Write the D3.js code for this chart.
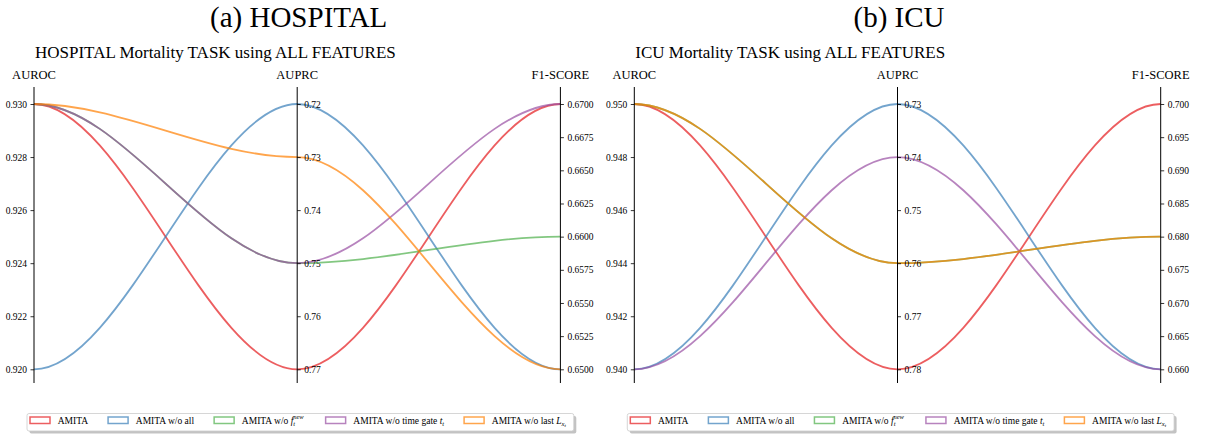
<!DOCTYPE html>
<html>
<head>
<meta charset="utf-8">
<script src="https://cdn.jsdelivr.net/npm/d3@7"></script>
<style>
  body { margin: 0; background: #fff; }
  text { font-family: "Liberation Serif", "DejaVu Serif", serif; fill: #000; }
</style>
</head>
<body>
<div id="chart-area"></div>
<script>
// metric axes and methods (legend order = drawing order)
var metrics = ["AUROC", "AUPRC", "F1-SCORE"];
var methods = ["AMITA", "AMITA w/o all", "AMITA w/o f", "AMITA w/o time gate", "AMITA w/o last L"];
var colors = ["#e41a1c", "#377eb8", "#4daf4a", "#984ea3", "#ff7f00"];

// HOSPITAL values per method
var hospitalAuroc = [0.930, 0.920, 0.930, 0.930, 0.930];
var hospitalAuprc = [0.77, 0.72, 0.75, 0.75, 0.73];
var hospitalF1 = [0.6700, 0.6500, 0.6600, 0.6700, 0.6500];

// ICU values per method
var icuAuroc = [0.950, 0.940, 0.950, 0.940, 0.950];
var icuAuprc = [0.78, 0.73, 0.76, 0.74, 0.76];
var icuF1 = [0.700, 0.660, 0.680, 0.660, 0.680];

// tick values
var hospitalAurocTicks = [0.920, 0.922, 0.924, 0.926, 0.928, 0.930];
var hospitalAuprcTicks = [0.72, 0.73, 0.74, 0.75, 0.76, 0.77];
var hospitalF1Ticks = [0.6500, 0.6525, 0.6550, 0.6575, 0.6600, 0.6625, 0.6650, 0.6675, 0.6700];
var icuAurocTicks = [0.940, 0.942, 0.944, 0.946, 0.948, 0.950];
var icuAuprcTicks = [0.73, 0.74, 0.75, 0.76, 0.77, 0.78];
var icuF1Ticks = [0.660, 0.665, 0.670, 0.675, 0.680, 0.685, 0.690, 0.695, 0.700];

var dims = {
    width: 1205,
    height: 435,
    panelWidth: 526.4,
    dataTop: 104,
    dataBottom: 369.3,
    axisTop: 87,
    axisBottom: 383
};

var svg = d3.select("#chart-area")
    .append("svg")
    .attr("width", dims.width)
    .attr("height", dims.height);

function curvePath(points) {
    // cubic segments with horizontal tangents, control points at 1/3 and 2/3
    var p = d3.path();
    p.moveTo(points[0][0], points[0][1]);
    for (var i = 1; i < points.length; i++) {
        var x0 = points[i - 1][0], y0 = points[i - 1][1];
        var x1 = points[i][0], y1 = points[i][1];
        var dx = (x1 - x0) / 3;
        p.bezierCurveTo(x0 + dx, y0, x1 - dx, y1, x1, y1);
    }
    return p.toString();
}

function drawPanel(panel) {
    var g = svg.append("g");
    var x = d3.scalePoint()
        .domain(metrics)
        .range([panel.x0, panel.x0 + dims.panelWidth]);

    var yScales = [
        d3.scaleLinear().domain(d3.extent(panel.aurocTicks)).range([dims.dataBottom, dims.dataTop]),
        d3.scaleLinear().domain(d3.extent(panel.auprcTicks)).range([dims.dataTop, dims.dataBottom]),
        d3.scaleLinear().domain(d3.extent(panel.f1Ticks)).range([dims.dataBottom, dims.dataTop])
    ];
    var series = [panel.auroc, panel.auprc, panel.f1];

    // titles
    g.append("text")
        .attr("x", x("AUPRC") + 1.5)
        .attr("y", 27)
        .attr("text-anchor", "middle")
        .style("font-size", "29px")
        .text(panel.title);
    g.append("text")
        .attr("x", panel.x0 + 1)
        .attr("y", 58)
        .style("font-size", "17px")
        .text(panel.subtitle);

    // curves
    methods.forEach(function (m, i) {
        var pts = metrics.map(function (metric, j) {
            return [x(metric), yScales[j](series[j][i])];
        });
        g.append("path")
            .attr("d", curvePath(pts))
            .attr("fill", "none")
            .attr("stroke", colors[i])
            .attr("stroke-opacity", 0.7)
            .attr("stroke-width", 1.8);
    });

    // axes
    var formats = [".3f", ".2f", panel.f1Format];
    var tickSets = [panel.aurocTicks, panel.auprcTicks, panel.f1Ticks];
    metrics.forEach(function (metric, j) {
        var axis = (j === 0 ? d3.axisLeft(yScales[j]) : d3.axisRight(yScales[j]))
            .tickValues(tickSets[j])
            .tickFormat(d3.format(formats[j]))
            .tickSize(3.5)
            .tickPadding(3.5);
        var ag = g.append("g")
            .attr("transform", "translate(" + x(metric) + ",0)")
            .call(axis)
            .attr("font-family", "'Liberation Serif', serif");
        ag.select(".domain").remove();
        ag.selectAll(".tick line").attr("stroke", "#000").attr("stroke-width", 0.8);
        ag.selectAll(".tick text")
            .style("font-family", "'Liberation Serif', serif")
            .style("font-size", "9.5px")
            .attr("fill", "#000");
        g.append("line")
            .attr("x1", x(metric)).attr("x2", x(metric))
            .attr("y1", dims.axisTop).attr("y2", dims.axisBottom)
            .attr("stroke", "#000")
            .attr("stroke-width", 1);
        g.append("text")
            .attr("x", x(metric))
            .attr("y", 79)
            .attr("text-anchor", "middle")
            .style("font-size", "12.5px")
            .text(metric);
    });

    // legend
    var lx = panel.x0 - 7;
    var ly = 413.5;
    var shadow = g.append("rect")
        .attr("x", lx + 2.5).attr("y", ly + 2.5)
        .attr("height", 17.5).attr("rx", 2)
        .attr("fill", "#888").attr("opacity", 0.5);
    var frame = g.append("rect")
        .attr("x", lx).attr("y", ly)
        .attr("height", 17.5).attr("rx", 2)
        .attr("fill", "#fff").attr("stroke", "#ccc").attr("stroke-width", 0.8);

    var cursor = panel.x0 - 4;
    methods.forEach(function (m, i) {
        g.append("rect")
            .attr("x", cursor).attr("y", 417)
            .attr("width", 20).attr("height", 6.5)
            .attr("fill", "#fff")
            .attr("stroke", colors[i])
            .attr("stroke-opacity", 0.7)
            .attr("stroke-width", 1.5);
        var t = g.append("text")
            .attr("x", cursor + 27.7)
            .attr("y", 423.5)
            .style("font-size", "9.5px");
        legendLabel(t, i);
        cursor += 27.7 + t.node().getComputedTextLength() + 20;
    });
    var boxW = cursor - 20 + 8 - lx;
    frame.attr("width", boxW);
    shadow.attr("width", boxW);
}

function legendLabel(t, i) {
    if (i === 2) {
        t.append("tspan").text("AMITA w/o ");
        t.append("tspan").style("font-style", "italic").text("f");
        t.append("tspan").attr("dy", 2).style("font-size", "6.5px").style("font-style", "italic").text("t");
        t.append("tspan").attr("dx", -2).attr("dy", -6.5).style("font-size", "6.5px").style("font-style", "italic").text("new");
    } else if (i === 3) {
        t.append("tspan").text("AMITA w/o time gate ");
        t.append("tspan").style("font-style", "italic").text("t");
        t.append("tspan").attr("dy", 2).style("font-size", "6.5px").style("font-style", "italic").text("t");
    } else if (i === 4) {
        t.append("tspan").text("AMITA w/o last ");
        t.append("tspan").style("font-style", "italic").text("L");
        t.append("tspan").attr("dy", 2).style("font-size", "6.5px").style("font-style", "italic").text("x");
        t.append("tspan").attr("dy", 1.5).style("font-size", "5px").style("font-style", "italic").text("t");
    } else {
        t.text(methods[i]);
    }
}

drawPanel({
    title: "(a) HOSPITAL",
    subtitle: "HOSPITAL Mortality TASK using ALL FEATURES",
    x0: 34,
    auroc: hospitalAuroc, auprc: hospitalAuprc, f1: hospitalF1,
    aurocTicks: hospitalAurocTicks, auprcTicks: hospitalAuprcTicks, f1Ticks: hospitalF1Ticks,
    f1Format: ".4f"
});

drawPanel({
    title: "(b) ICU",
    subtitle: "ICU Mortality TASK using ALL FEATURES",
    x0: 634.3,
    auroc: icuAuroc, auprc: icuAuprc, f1: icuF1,
    aurocTicks: icuAurocTicks, auprcTicks: icuAuprcTicks, f1Ticks: icuF1Ticks,
    f1Format: ".3f"
});
</script>
</body>
</html>
